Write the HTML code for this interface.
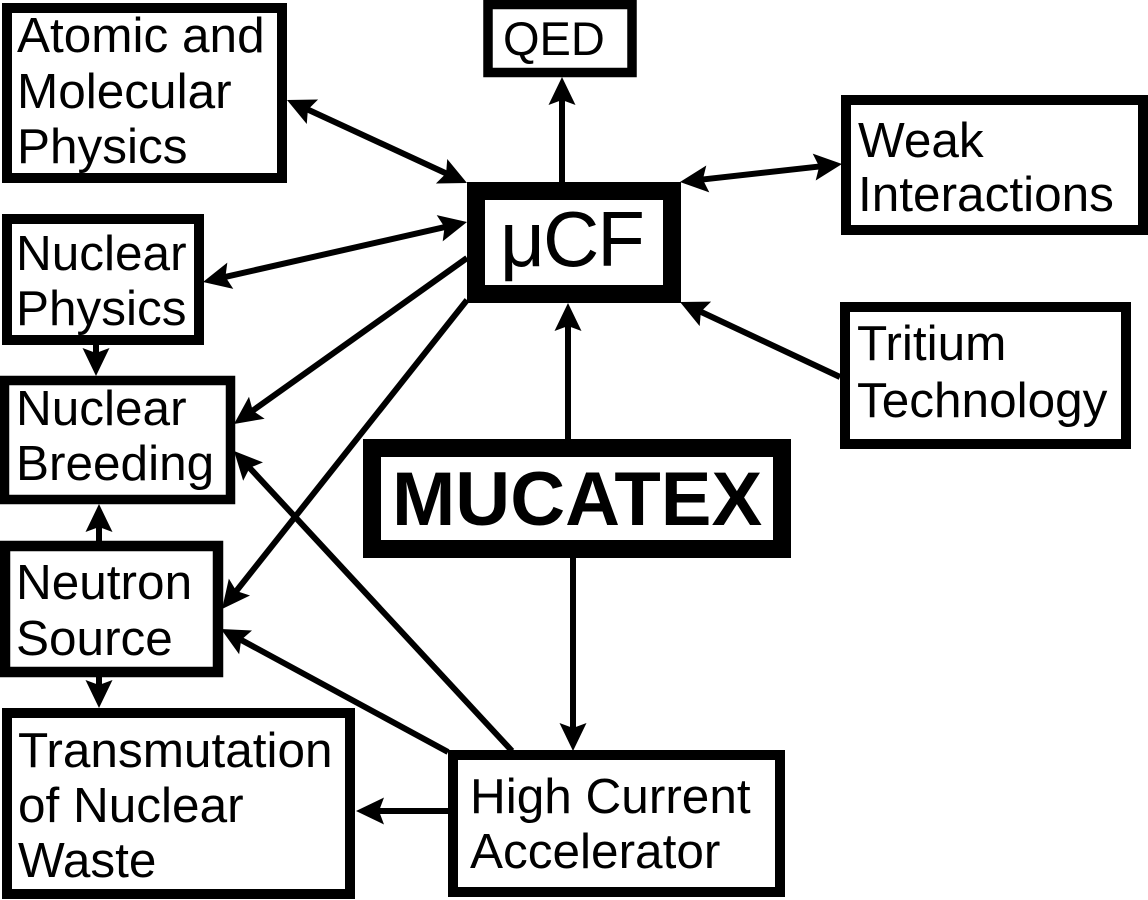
<!DOCTYPE html>
<html>
<head>
<meta charset="utf-8">
<style>
html,body{margin:0;padding:0;background:#fff;}
svg{display:block;}
text{font-family:"Liberation Sans",Arial,sans-serif;fill:#000;}
</style>
</head>
<body>
<svg width="1148" height="900" viewBox="0 0 1148 900" xmlns="http://www.w3.org/2000/svg">
<defs>
<marker id="ah" markerUnits="userSpaceOnUse" viewBox="0 -16 32 32" markerWidth="32" markerHeight="32" refX="16" refY="0" orient="auto-start-reverse" overflow="visible">
<path d="M28,0 L0,-13.5 L5,0 L0,13.5 Z" fill="#000"/>
</marker>
</defs>
<rect x="0" y="0" width="1148" height="900" fill="#fff"/>

<g stroke="#000" stroke-width="6" fill="none">
<line x1="297.9" y1="105.0" x2="456.1" y2="178.0" marker-start="url(#ah)" marker-end="url(#ah)"/>
<line x1="562" y1="183" x2="562" y2="89" marker-end="url(#ah)"/>
<line x1="691.9" y1="180.7" x2="830.1" y2="165.3" marker-start="url(#ah)" marker-end="url(#ah)"/>
<line x1="214.7" y1="279.3" x2="455.3" y2="224.7" marker-start="url(#ah)" marker-end="url(#ah)"/>
<line x1="467" y1="258" x2="243.8" y2="417.0" marker-end="url(#ah)"/>
<line x1="467" y1="300" x2="229.5" y2="599.6" marker-end="url(#ah)"/>
<line x1="840" y1="377" x2="690.9" y2="307.1" marker-end="url(#ah)"/>
<line x1="568" y1="440" x2="568" y2="315" marker-end="url(#ah)"/>
<line x1="573" y1="557" x2="573" y2="739" marker-end="url(#ah)"/>
<line x1="512" y1="751" x2="242.2" y2="459.8" marker-end="url(#ah)"/>
<line x1="448" y1="752" x2="231.5" y2="634.7" marker-end="url(#ah)"/>
<line x1="449" y1="811" x2="368" y2="811" marker-end="url(#ah)"/>
<line x1="96" y1="345" x2="96" y2="364" marker-end="url(#ah)"/>
<line x1="99" y1="541" x2="99" y2="516" marker-end="url(#ah)"/>
<line x1="99" y1="677" x2="99" y2="696" marker-end="url(#ah)"/>
</g>

<g stroke="#000" fill="#fff">
<rect x="7" y="8" width="275" height="170" stroke-width="10"/>
<rect x="488" y="4.5" width="144" height="68" stroke-width="9.5"/>
<rect x="476" y="191" width="196" height="103" stroke-width="18"/>
<rect x="846" y="100" width="297" height="130" stroke-width="10"/>
<rect x="845" y="307" width="281" height="137" stroke-width="10"/>
<rect x="7" y="219" width="192" height="121" stroke-width="10"/>
<rect x="4.5" y="380.5" width="226" height="119" stroke-width="9.5"/>
<rect x="5" y="546" width="213" height="126" stroke-width="10.5"/>
<rect x="7" y="713" width="343" height="181" stroke-width="10"/>
<rect x="372" y="448" width="410" height="101" stroke-width="18"/>
<rect x="453" y="755" width="327" height="137" stroke-width="10"/>
</g>

<g font-size="49.5">
<text x="17" y="52">Atomic and</text>
<text x="17" y="108">Molecular</text>
<text x="17" y="163">Physics</text>

<text x="503" y="55" font-size="47">QED</text>

<text x="500" y="266" font-size="78" letter-spacing="-2">μCF</text>

<text x="858" y="157">Weak</text>
<text x="858" y="211">Interactions</text>

<text x="857" y="360">Tritium</text>
<text x="857" y="417">Technology</text>

<text x="16" y="270">Nuclear</text>
<text x="16" y="325">Physics</text>

<text x="16" y="425">Nuclear</text>
<text x="16" y="480">Breeding</text>

<text x="16" y="599">Neutron</text>
<text x="16" y="655">Source</text>

<text x="18" y="767">Transmutation</text>
<text x="18" y="822">of Nuclear</text>
<text x="18" y="877">Waste</text>

<text x="392" y="525" font-size="76" font-weight="bold">MUCATEX</text>

<text x="470" y="813">High Current</text>
<text x="470" y="868">Accelerator</text>
</g>
</svg>
</body>
</html>
